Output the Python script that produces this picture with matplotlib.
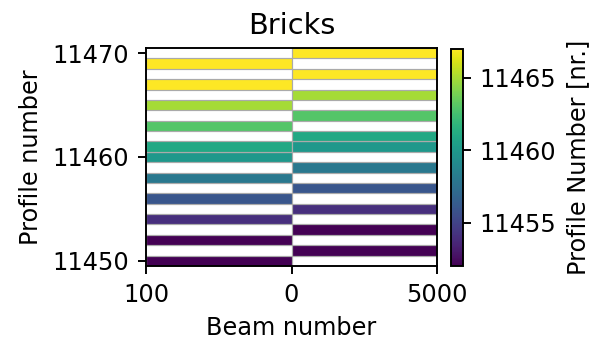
import matplotlib
matplotlib.use("Agg")
import matplotlib.pyplot as plt
import numpy as np
from matplotlib import cm, colors

# Each brick: left half sits on the profile row, right half one row higher
profiles = [11450, 11452, 11454, 11456, 11458, 11460, 11461, 11463, 11465, 11467, 11469]
right_offset = 1

x_ticks = [0, 1, 2]
x_tick_labels = ["100", "0", "5000"]
y_ticks = [11450, 11460, 11470]
cbar_ticks = [11455, 11460, 11465]
vmin, vmax = 11452, 11467

dpi = 172.8
fig = plt.figure(figsize=(594 / dpi, 340 / dpi), dpi=dpi)
ax = fig.add_axes([146 / 594, 74 / 340, 291 / 594, 218 / 340])
cax = fig.add_axes([451 / 594, 74 / 340, 11.5 / 594, 217 / 340])

cmap = plt.get_cmap("viridis")
norm = colors.Normalize(vmin=vmin, vmax=vmax)
p = np.array(profiles)
face = cmap(norm(p))

ax.barh(p, 1, left=0, height=1, color=face, edgecolor="#aaaaaa", linewidth=0.5)
ax.barh(p + right_offset, 1, left=1, height=1, color=face, edgecolor="#aaaaaa", linewidth=0.5)

ax.set_xlim(0, 2)
ax.set_ylim(11449.5, 11470.5)
ax.set_xticks(x_ticks)
ax.set_xticklabels(x_tick_labels)
ax.set_yticks(y_ticks)
ax.set_xlabel("Beam number")
ax.set_ylabel("Profile number")
ax.set_title("Bricks")

sm = cm.ScalarMappable(norm=norm, cmap=cmap)
cb = fig.colorbar(sm, cax=cax)
cb.set_ticks(cbar_ticks)
cb.set_label("Profile Number [nr.]")

fig.savefig("out.png", dpi=dpi)
